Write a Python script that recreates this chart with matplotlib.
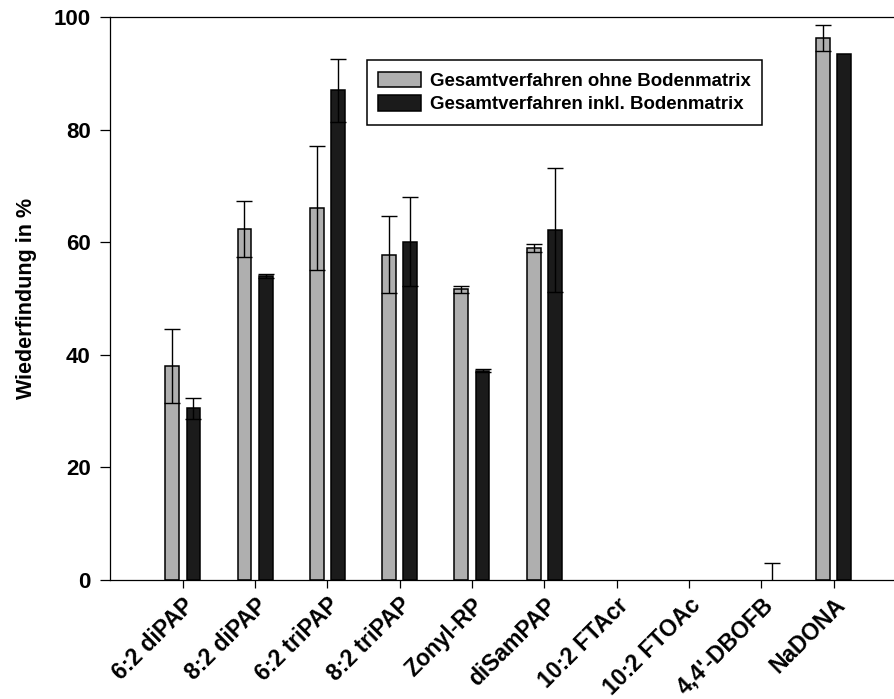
import numpy as np
import matplotlib
matplotlib.use("Agg")
import matplotlib.pyplot as plt

categories = ["6:2 diPAP", "8:2 diPAP", "6:2 triPAP", "8:2 triPAP", "Zonyl-RP",
              "diSamPAP", "10:2 FTAcr", "10:2 FTOAc", "4,4'-DBOFB", "NaDONA"]
ohne = [38.0, 62.4, 66.0, 57.8, 51.6, 59.0, 0.0, 0.0, 0.0, 96.3]
ohne_err = [6.6, 5.0, 11.0, 6.8, 0.6, 0.7, np.nan, np.nan, np.nan, 2.3]
inkl = [30.5, 54.0, 87.0, 60.1, 37.2, 62.2, 0.0, 0.0, 0.0, 93.5]
inkl_err = [1.9, 0.3, 5.6, 7.9, 0.3, 11.0, np.nan, np.nan, 3.0, np.nan]
label_ohne = "Gesamtverfahren ohne Bodenmatrix"
label_inkl = "Gesamtverfahren inkl. Bodenmatrix"
yticks = [0, 20, 40, 60, 80, 100]

plt.rcParams['font.family'] = ['Liberation Sans', 'DejaVu Sans']

fig = plt.figure(figsize=(8.95, 6.99), dpi=100)
ax = fig.add_axes([0.1234, 0.1702, 1.0 - 0.1234, 0.9757 - 0.1702])

x = np.arange(len(categories))
off = 0.147
w = 0.19
gray = "#AFAFAF"
dark = "#1B1B1B"

lw_ohne = [1.1 if v > 0 else 0 for v in ohne]
lw_inkl = [1.1 if v > 0 else 0 for v in inkl]
ax.bar(x - off, ohne, w, color=gray, edgecolor="black", linewidth=lw_ohne,
       label=label_ohne, zorder=2)
ax.bar(x + off, inkl, w, color=dark, edgecolor="black", linewidth=lw_inkl,
       label=label_inkl, zorder=2)

for xs, vals, errs in [(x - off, ohne, ohne_err), (x + off, inkl, inkl_err)]:
    errs = np.array(errs, dtype=float)
    m = np.isfinite(errs)
    ax.errorbar(np.asarray(xs)[m], np.asarray(vals)[m], yerr=errs[m], fmt="none",
                ecolor="black", elinewidth=1.0, capsize=6.1, capthick=1.0,
                zorder=3)

ax.set_xlim(-1.0, 9.85)
ax.set_ylim(0, 100)
ax.set_yticks(yticks)
ax.set_yticklabels([str(v) for v in yticks], fontsize=16, fontweight="bold")
ax.set_xticks(x)
ax.set_xticklabels(categories, fontsize=16.5, fontweight="bold", rotation=45,
                   ha="right", rotation_mode="anchor")
ax.tick_params(axis="y", direction="out", length=7.2, width=0.9, pad=7)
ax.tick_params(axis="x", direction="out", length=5.8, width=0.9, pad=4)

for s in ["left", "bottom", "top"]:
    ax.spines[s].set_linewidth(0.9)
ax.spines["right"].set_visible(False)

ax.set_ylabel("Wiederfindung in %", fontsize=15.5, fontweight="bold")
ax.yaxis.set_label_coords(-0.094, 0.5)

leg = ax.legend(loc="upper left", bbox_to_anchor=(0.327, 0.923),
                borderaxespad=0, prop={"size": 13.4, "weight": "bold"},
                handlelength=2.3, handleheight=0.9, handletextpad=0.5,
                labelspacing=0.3, fancybox=False, framealpha=1,
                edgecolor="black", borderpad=0.6)
leg.get_frame().set_linewidth(1.1)

fig.savefig("out.png", dpi=100)
